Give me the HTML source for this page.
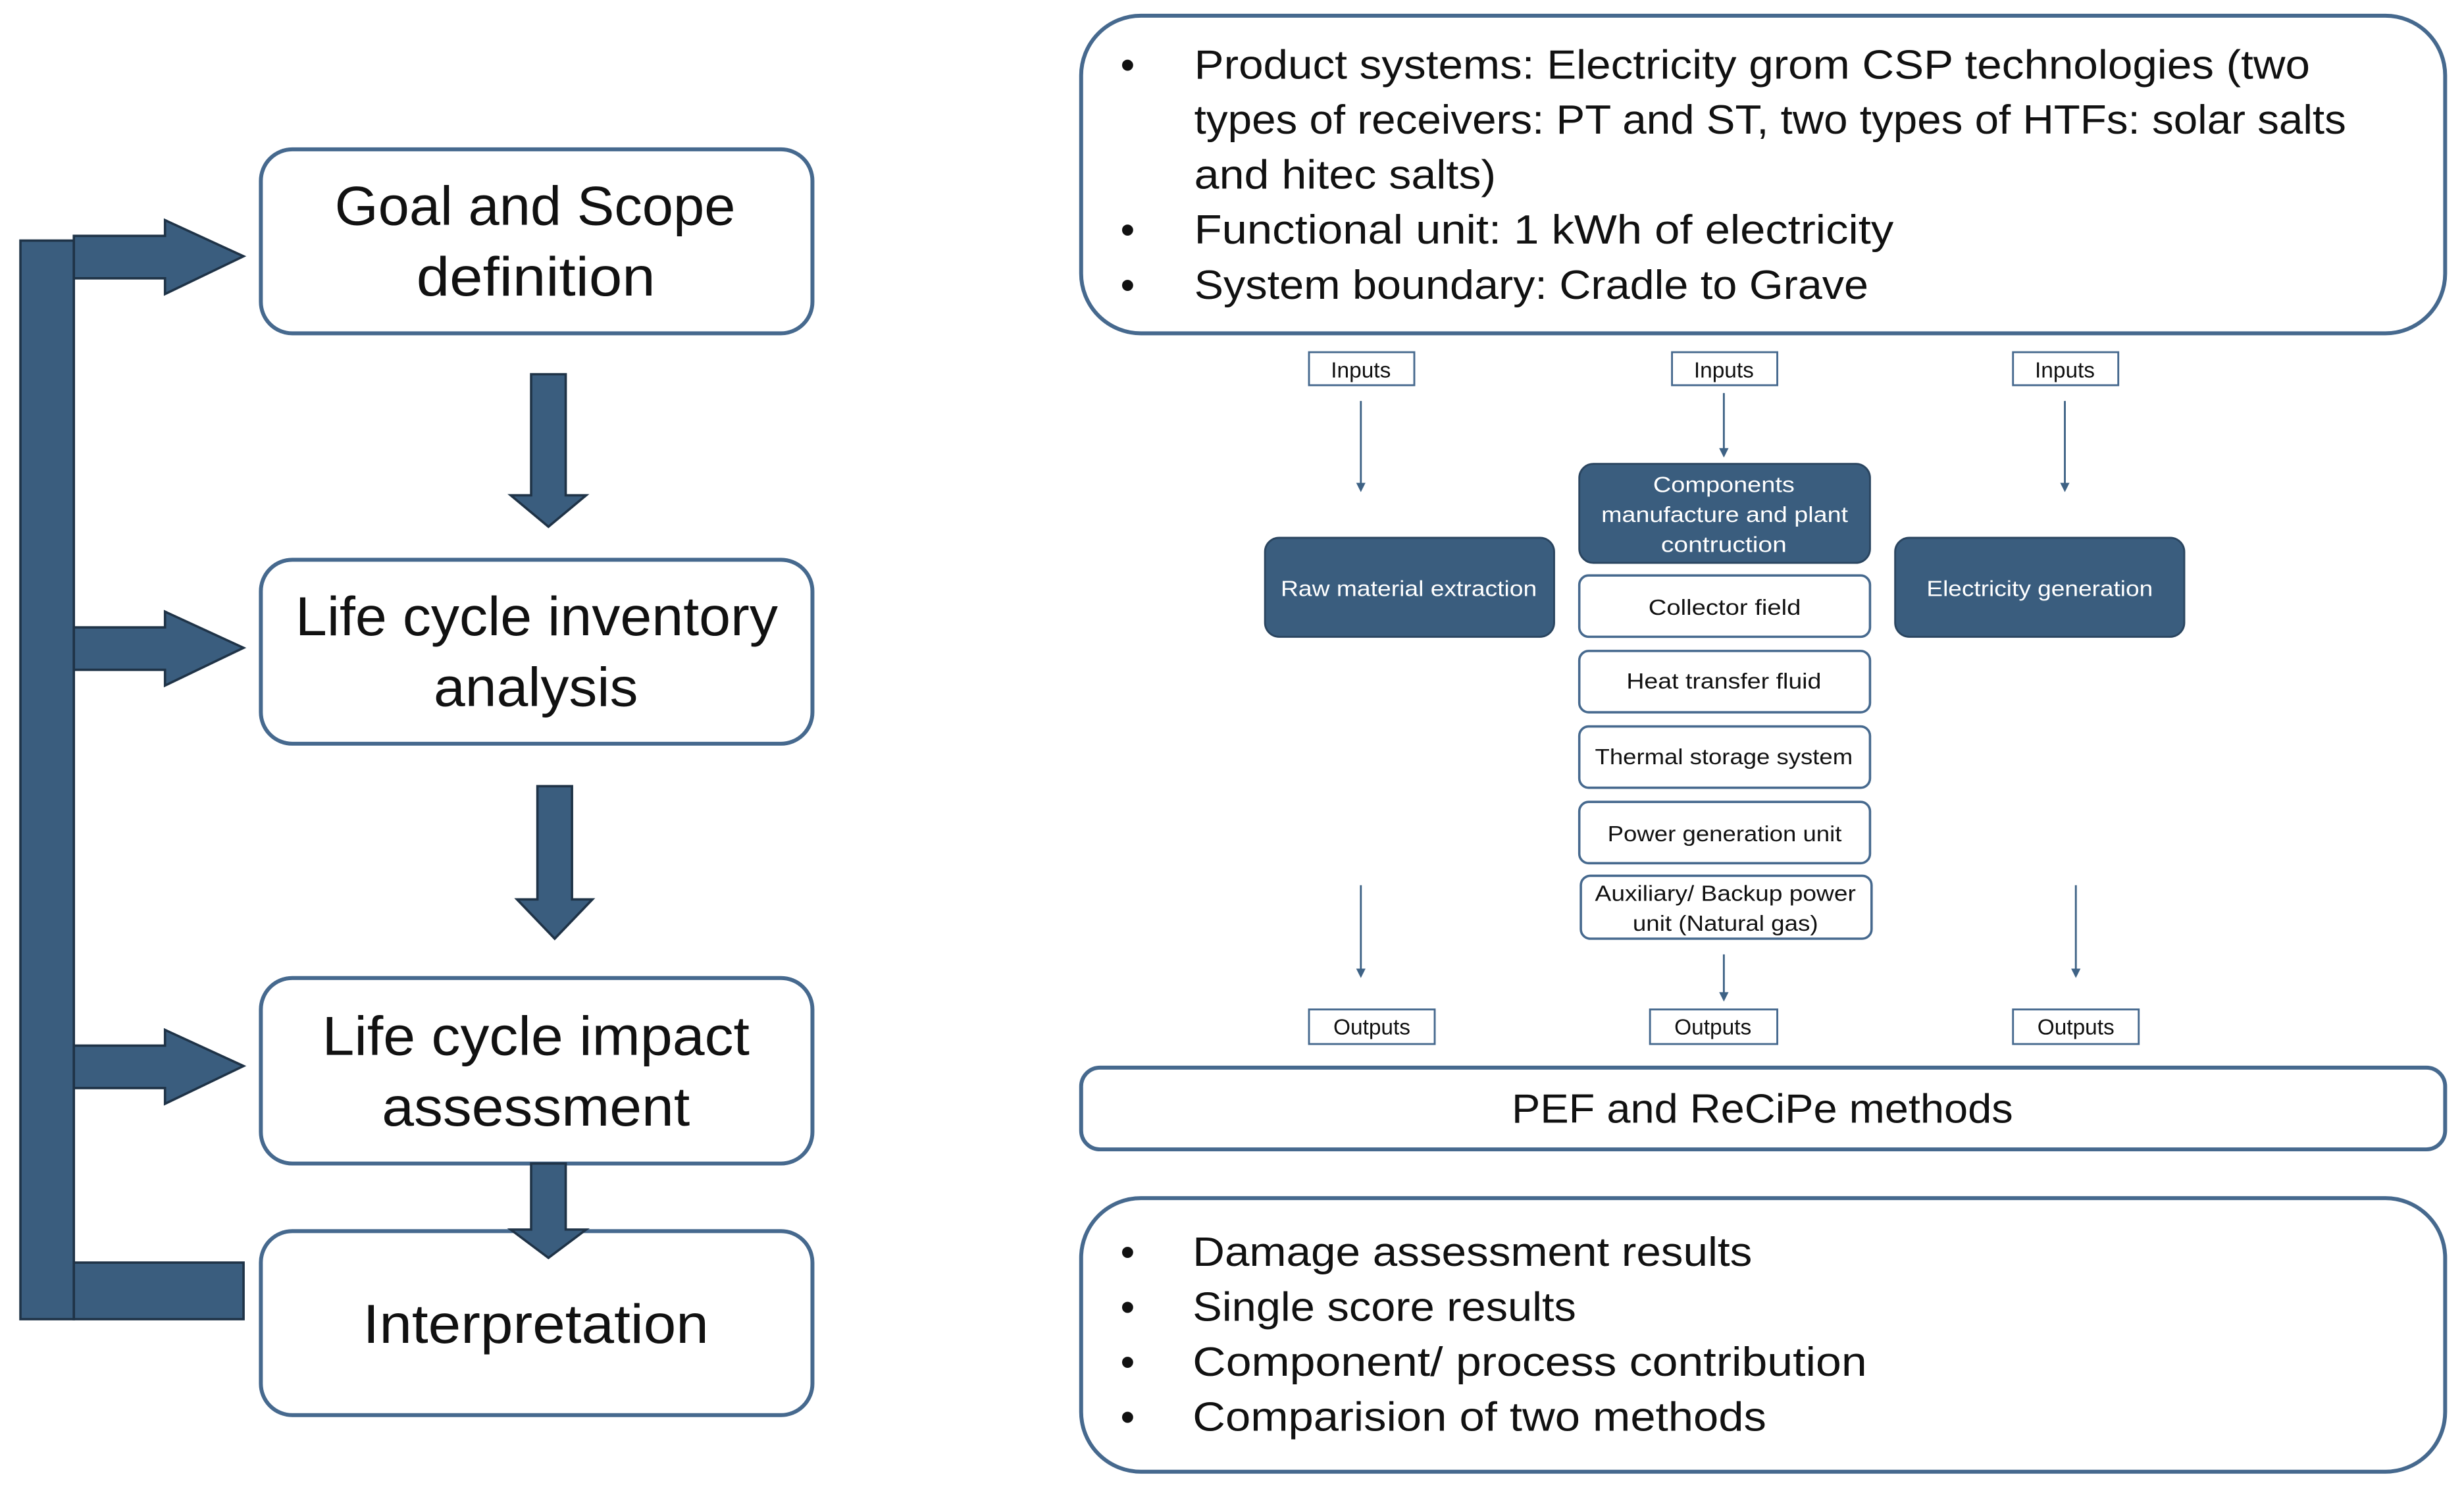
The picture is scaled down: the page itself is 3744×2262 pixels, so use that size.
<!DOCTYPE html>
<html><head><meta charset="utf-8"><style>
html,body{margin:0;padding:0;background:#fff;}
svg{display:block;}
text{font-family:"Liberation Sans",sans-serif;}
</style></head><body>
<svg width="3744" height="2262" viewBox="0 0 1568 947" preserveAspectRatio="none" xmlns="http://www.w3.org/2000/svg">
<defs>
<marker id="ah" markerWidth="6" markerHeight="6" refX="3" refY="3" orient="auto" markerUnits="userSpaceOnUse"><path d="M0,0 L6,3 L0,6 z" fill="#3e6285"/></marker>
</defs>
<g fill="#3a5d7e" stroke="#1f3347" stroke-width="1.5">
<rect x="13" y="153" width="34" height="686"/>
<path d="M47,150 H105 V140 L155,163 L105,187 V177 H47 Z"/>
<path d="M47,399 H105 V389 L155,412 L105,436 V426 H47 Z"/>
<path d="M47,665 H105 V655 L155,678 L105,702 V692 H47 Z"/>
<rect x="47" y="803" width="108" height="36"/>
<path d="M338,238 H360 V315 H373 L349,335 L325,315 H338 Z"/>
<path d="M342,500 H364 V572 H377 L353,597 L329,572 H342 Z"/>
</g>
<g fill="#fff" stroke="#46698e" stroke-width="2.5">
<rect x="166" y="95" width="351" height="117" rx="20"/>
<rect x="166" y="356" width="351" height="117" rx="20"/>
<rect x="166" y="622" width="351" height="118" rx="20"/>
<rect x="166" y="783" width="351" height="117" rx="20"/>
</g>
<path d="M338,740 H360 V782 H373 L349,800 L325,782 H338 Z" fill="#3a5d7e" stroke="#1f3347" stroke-width="1.5"/>
<g font-size="35" fill="#111" lengthAdjust="spacingAndGlyphs">
<text x="213" y="143" textLength="255" lengthAdjust="spacingAndGlyphs">Goal and Scope</text>
<text x="265" y="188" textLength="152" lengthAdjust="spacingAndGlyphs">definition</text>
<text x="188" y="404" textLength="307" lengthAdjust="spacingAndGlyphs">Life cycle inventory</text>
<text x="276" y="449" textLength="130" lengthAdjust="spacingAndGlyphs">analysis</text>
<text x="205" y="671" textLength="272" lengthAdjust="spacingAndGlyphs">Life cycle impact</text>
<text x="243" y="716" textLength="196" lengthAdjust="spacingAndGlyphs">assessment</text>
<text x="231" y="854" textLength="220" lengthAdjust="spacingAndGlyphs">Interpretation</text>
</g>
<g fill="#fff" stroke="#46698e" stroke-width="2.5">
<rect x="688" y="10" width="868" height="202" rx="38"/>
<rect x="688" y="679" width="868" height="52" rx="12"/>
<rect x="688" y="762" width="868" height="174" rx="38"/>
</g>
<g font-size="26" fill="#111">
<text x="713" y="50">•</text><text x="760" y="50" textLength="710" lengthAdjust="spacingAndGlyphs">Product systems: Electricity grom CSP technologies (two</text>
<text x="760" y="85" textLength="733" lengthAdjust="spacingAndGlyphs">types of receivers: PT and ST, two types of HTFs: solar salts</text>
<text x="760" y="120" textLength="192" lengthAdjust="spacingAndGlyphs">and hitec salts)</text>
<text x="713" y="155">•</text><text x="760" y="155" textLength="445" lengthAdjust="spacingAndGlyphs">Functional unit: 1 kWh of electricity</text>
<text x="713" y="190">•</text><text x="760" y="190" textLength="429" lengthAdjust="spacingAndGlyphs">System boundary: Cradle to Grave</text>
<text x="962" y="714" textLength="319" lengthAdjust="spacingAndGlyphs">PEF and ReCiPe methods</text>
<text x="713" y="805">•</text><text x="759" y="805" textLength="356" lengthAdjust="spacingAndGlyphs">Damage assessment results</text>
<text x="713" y="840">•</text><text x="759" y="840" textLength="244" lengthAdjust="spacingAndGlyphs">Single score results</text>
<text x="713" y="875">•</text><text x="759" y="875" textLength="429" lengthAdjust="spacingAndGlyphs">Component/ process contribution</text>
<text x="713" y="910">•</text><text x="759" y="910" textLength="365" lengthAdjust="spacingAndGlyphs">Comparision of two methods</text>
</g>
<g fill="#fff" stroke="#46698e" stroke-width="1.2">
<rect x="833" y="224" width="67" height="21"/>
<rect x="1064" y="224" width="67" height="21"/>
<rect x="1281" y="224" width="67" height="21"/>
<rect x="833" y="642" width="80" height="22"/>
<rect x="1050" y="642" width="81" height="22"/>
<rect x="1281" y="642" width="80" height="22"/>
</g>
<g font-size="14" text-anchor="middle" fill="#111">
<text x="866" y="240">Inputs</text>
<text x="1097" y="240">Inputs</text>
<text x="1314" y="240">Inputs</text>
<text x="873" y="658">Outputs</text>
<text x="1090" y="658">Outputs</text>
<text x="1321" y="658">Outputs</text>
</g>
<g stroke="#3e6285" stroke-width="1.2" marker-end="url(#ah)">
<line x1="866" y1="255" x2="866" y2="310"/>
<line x1="1097" y1="250" x2="1097" y2="288"/>
<line x1="1314" y1="255" x2="1314" y2="310"/>
<line x1="866" y1="563" x2="866" y2="619"/>
<line x1="1097" y1="607" x2="1097" y2="634"/>
<line x1="1321" y1="563" x2="1321" y2="619"/>
</g>
<g fill="#3a5d7e" stroke="#2a4560" stroke-width="1.2">
<rect x="805" y="342" width="184" height="63" rx="9"/>
<rect x="1005" y="295" width="185" height="63" rx="9"/>
<rect x="1206" y="342" width="184" height="63" rx="9"/>
</g>
<g fill="#fff" stroke="#46698e" stroke-width="1.5">
<rect x="1005" y="366" width="185" height="39" rx="6"/>
<rect x="1005" y="414" width="185" height="39" rx="6"/>
<rect x="1005" y="462" width="185" height="39" rx="6"/>
<rect x="1005" y="510" width="185" height="39" rx="6"/>
<rect x="1006" y="557" width="185" height="40" rx="6"/>
</g>
<g font-size="14" fill="#fff">
<text x="815" y="379" textLength="163" lengthAdjust="spacingAndGlyphs">Raw material extraction</text>
<text x="1052" y="313" textLength="90" lengthAdjust="spacingAndGlyphs">Components</text>
<text x="1019" y="332" textLength="157" lengthAdjust="spacingAndGlyphs">manufacture and plant</text>
<text x="1057" y="351" textLength="80" lengthAdjust="spacingAndGlyphs">contruction</text>
<text x="1226" y="379" textLength="144" lengthAdjust="spacingAndGlyphs">Electricity generation</text>
</g>
<g font-size="14" fill="#111">
<text x="1049" y="391" textLength="97" lengthAdjust="spacingAndGlyphs">Collector field</text>
<text x="1035" y="438" textLength="124" lengthAdjust="spacingAndGlyphs">Heat transfer fluid</text>
<text x="1015" y="486" textLength="164" lengthAdjust="spacingAndGlyphs">Thermal storage system</text>
<text x="1023" y="535" textLength="149" lengthAdjust="spacingAndGlyphs">Power generation unit</text>
<text x="1015" y="573" textLength="166" lengthAdjust="spacingAndGlyphs">Auxiliary/ Backup power</text>
<text x="1039" y="592" textLength="118" lengthAdjust="spacingAndGlyphs">unit (Natural gas)</text>
</g>
</svg>
</body></html>
